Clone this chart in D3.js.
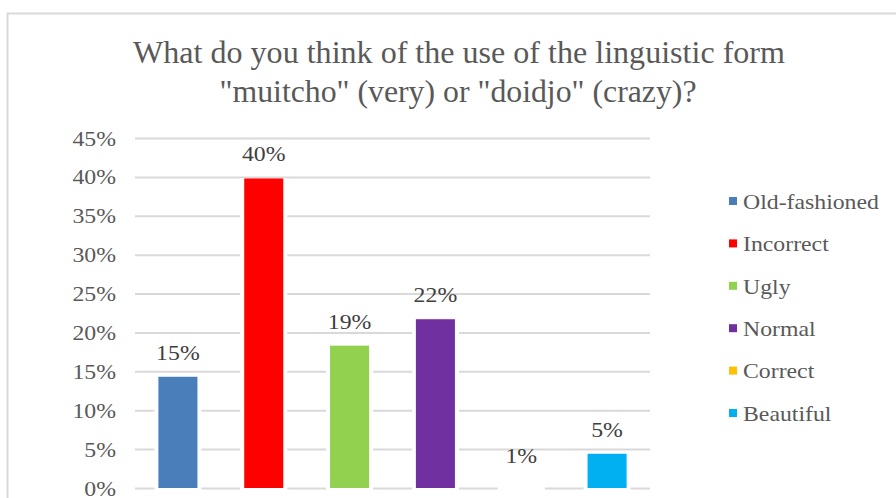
<!DOCTYPE html>
<html>
<head>
<meta charset="utf-8">
<script src="https://cdn.jsdelivr.net/npm/d3@7"></script>
<style>
  html, body { margin: 0; padding: 0; background: #fff; }
  svg { display: block; }
  svg text { font-family: "Times New Roman", "Liberation Serif", Times, serif; }
</style>
</head>
<body>
<svg id="chart" width="896" height="498"></svg>
<script>
// ---- data ----
const categories = ["Old-fashioned", "Incorrect", "Ugly", "Normal", "Correct", "Beautiful"];
const values = [0.143, 0.398, 0.183, 0.217, 0.01, 0.044];
const valueLabels = ["15%", "40%", "19%", "22%", "1%", "5%"];
const colors = ["#4a7ebb", "#ff0000", "#92d050", "#7030a0", "#ffc000", "#00b0f0"];
const barShown = [true, true, true, true, false, true];
const yTicks = [0, 0.05, 0.10, 0.15, 0.20, 0.25, 0.30, 0.35, 0.40, 0.45];
const titleLines = ["What do you think of the use of the linguistic  form", "\"muitcho\" (very) or \"doidjo\" (crazy)?"];

const FONT = "'Times New Roman', 'Liberation Serif', Times, serif";
const SMALL = 22;
const STRETCH = 1.08;
function stretch(sel) {
  sel.each(function () {
    const n = this.getComputedTextLength();
    d3.select(this).attr("textLength", n * STRETCH).attr("lengthAdjust", "spacingAndGlyphs");
  });
}

const svg = d3.select("#chart");

// frame
svg.append("path")
  .attr("d", "M7.5,498 L7.5,13.5 L896,13.5")
  .attr("fill", "none").attr("stroke", "#d9d9d9").attr("stroke-width", 2);

// title
const titleSpecs = [{cx: 459, y: 63, w: 652}, {cx: 458, y: 102, w: 477}];
titleLines.forEach((t, i) => {
  svg.append("text")
    .attr("x", titleSpecs[i].cx).attr("y", titleSpecs[i].y)
    .attr("text-anchor", "middle")
    .attr("font-family", FONT)
    .attr("font-size", 32)
    .attr("fill", "#595959")
    .attr("textLength", titleSpecs[i].w)
    .attr("lengthAdjust", "spacingAndGlyphs")
    .text(t);
});

// scales
const plot = {left: 135, right: 650, top: 138, bottom: 488};
const x = d3.scaleBand().domain(categories)
  .range([plot.left, plot.right])
  .paddingInner(0.545).paddingOuter(0.2725);
const y = d3.scaleLinear().domain([0, 0.45]).range([plot.bottom, plot.top]);

// gridlines + tick labels
const yAxis = d3.axisLeft(y).tickValues(yTicks).tickFormat(d3.format(".0%"))
  .tickSize(-(plot.right - plot.left)).tickPadding(19);
const gAxis = svg.append("g").attr("transform", `translate(${plot.left},0)`).call(yAxis);
gAxis.attr("font-family", FONT).attr("font-size", SMALL);
gAxis.select(".domain").remove();
gAxis.selectAll(".tick line").attr("stroke", "#d9d9d9").attr("stroke-width", 2);
gAxis.selectAll(".tick text")
  .attr("font-family", FONT)
  .attr("font-size", SMALL).attr("fill", "#595959")
  .call(stretch);

// bars
const data = categories.map((c, i) => ({c, v: values[i], label: valueLabels[i], color: colors[i], shown: barShown[i]}));
const gBars = svg.append("g");
// white gaps breaking the gridlines around each bar
gBars.selectAll("rect.gap").data(data).join("rect")
  .attr("class", "gap")
  .attr("x", d => x(d.c) - 4)
  .attr("width", x.bandwidth() + 8)
  .attr("y", d => y(d.v))
  .attr("height", d => y(0) - y(d.v) + 2)
  .attr("fill", "#fff");
gBars.selectAll("rect.bar").data(data).join("rect")
  .attr("class", "bar")
  .attr("x", d => x(d.c))
  .attr("width", x.bandwidth())
  .attr("y", d => y(d.v))
  .attr("height", d => y(0) - y(d.v))
  .attr("fill", d => d.color)
  .attr("fill-opacity", d => d.shown ? 1 : 0);

// value labels
gBars.selectAll("text.lbl").data(data).join("text")
  .attr("class", "lbl")
  .attr("x", d => x(d.c) + x.bandwidth() / 2)
  .attr("y", d => y(d.v) - 17)
  .attr("text-anchor", "middle")
  .attr("font-family", FONT)
  .attr("font-size", SMALL).attr("fill", "#404040")
  .text(d => d.label)
  .call(stretch);

// legend
const legend = svg.append("g").attr("transform", "translate(729,201)");
const lg = legend.selectAll("g").data(data).join("g")
  .attr("transform", (d, i) => `translate(0,${i * 42.4})`);
lg.append("rect").attr("x", 0).attr("y", -4).attr("width", 8).attr("height", 8)
  .attr("fill", d => d.color);
lg.append("text").attr("x", 14).attr("y", 0).attr("dy", "0.35em")
  .attr("font-family", FONT)
  .attr("font-size", SMALL).attr("fill", "#595959")
  .text(d => d.c)
  .call(stretch);
</script>
</body>
</html>
